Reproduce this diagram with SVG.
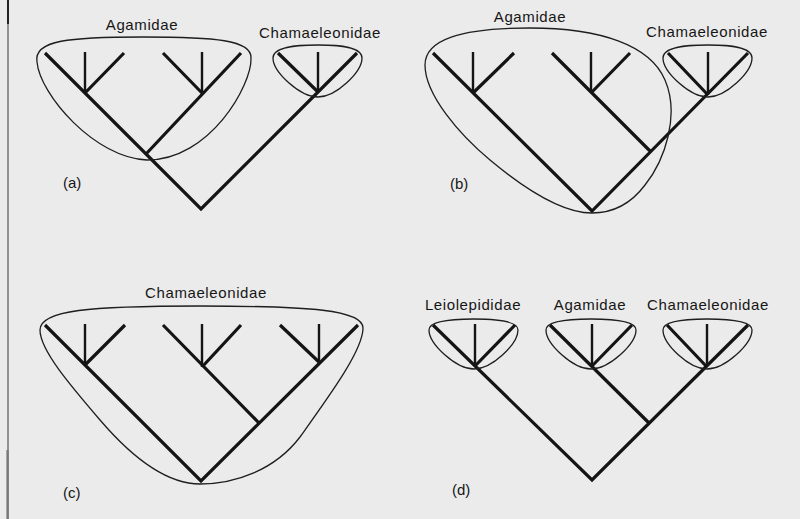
<svg xmlns="http://www.w3.org/2000/svg" width="800" height="519" viewBox="0 0 800 519">
<style>
.br{fill:none;stroke:#141414;stroke-width:3.2;stroke-linecap:butt;stroke-linejoin:miter}
.tip{fill:none;stroke:#141414;stroke-width:2.4}
.loop{fill:none;stroke:#1e1e1e;stroke-width:1.3}
.lab{font-family:"Liberation Sans",Arial,sans-serif;font-size:15px;fill:#161616;text-anchor:middle;letter-spacing:0.6px}
.pl{font-family:"Liberation Sans",Arial,sans-serif;font-size:15px;fill:#161616}
</style>
<rect width="800" height="519" fill="#ebebeb"/>
<line x1="8" y1="0" x2="8" y2="519" stroke="#555" stroke-width="1.2"/>
<line x1="8" y1="0" x2="8" y2="24" stroke="#222" stroke-width="2"/>
<line x1="7.5" y1="450" x2="7.5" y2="519" stroke="#777" stroke-width="2.2"/>

<g id="panel-a">
  <g id="a-tree">
    <path class="br" d="M45,53 L201,209 L357,53 M85,93 L124,53 M146,154 L241,53 M202,93 L163,53 M318,92 L278,53"/>
    <path class="tip" d="M85,93 V52 M202,93 V52 M318,92 V52"/>
  </g>
  <g id="a-agamidae">
    <path class="loop" d="M147,160 C95,158 40,95 37,62 C33,40 70,37 143,37 C215,37 252,40 251,58 C252,85 210,160 147,160 Z"/>
    <text class="lab" x="142" y="30">Agamidae</text>
  </g>
  <g id="a-chamaeleonidae">
    <path class="loop" d="M318,97 C300,97 273,72 273,58 C273,47 295,45 318,45 C341,45 362,47 362,58 C362,72 336,97 318,97 Z"/>
    <text class="lab" x="320" y="38">Chamaeleonidae</text>
  </g>
  <text class="pl" x="63" y="188">(a)</text>
</g>

<g id="panel-b">
  <g id="b-tree">
    <path class="br" d="M433,53 L592,211 L748,53 M473,93 L514,53 M651,152 L552,53 M591,93 L630,53 M708,95 L668,53"/>
    <path class="tip" d="M473,93 V52 M591,93 V52 M708,95 V52"/>
  </g>
  <g id="b-agamidae">
    <path class="loop" d="M592,213 C560,213 520,185 490,160 C460,135 425,95 425,65 C425,40 460,28 530,28 C600,28 650,45 665,80 C680,115 665,160 645,185 C630,205 612,213 592,213 Z"/>
    <text class="lab" x="530" y="22">Agamidae</text>
  </g>
  <g id="b-chamaeleonidae">
    <path class="loop" d="M708,97 C690,97 663,72 663,58 C663,47 685,45 708,45 C731,45 752,47 752,58 C752,72 726,97 708,97 Z"/>
    <text class="lab" x="707" y="37">Chamaeleonidae</text>
  </g>
  <text class="pl" x="450" y="189">(b)</text>
</g>

<g id="panel-c">
  <g id="c-tree">
    <path class="br" d="M45,325 L201,481 L358,325 M85,365 L125,325 M259,423 L163,325 M202,367 L241,325 M320,363 L280,325"/>
    <path class="tip" d="M85,365 V324 M202,367 V324 M319,363 V324"/>
  </g>
  <g id="c-chamaeleonidae">
    <path class="loop" d="M200,484 C165,484 130,455 100,420 C70,385 40,350 40,330 C40,310 90,306 200,306 C310,306 363,310 363,328 C363,350 330,395 300,437 C275,470 235,484 200,484 Z"/>
    <text class="lab" x="206" y="298">Chamaeleonidae</text>
  </g>
  <text class="pl" x="63" y="498">(c)</text>
</g>

<g id="panel-d">
  <g id="d-tree">
    <path class="br" d="M433,325 L592,480 L748,325 M475,366 L515,325 M649,423 L550,325 M592,366 L632,325 M706,366 L667,325"/>
    <path class="tip" d="M475,366 V324 M592,366 V324 M707,366 V324"/>
  </g>
  <g id="d-leiolepididae">
    <path class="loop" d="M474,369 C456,369 429,344 429,330 C429,321 451,319 474,319 C497,319 518,321 518,330 C518,344 492,369 474,369 Z"/>
    <text class="lab" x="473" y="310">Leiolepididae</text>
  </g>
  <g id="d-agamidae">
    <path class="loop" d="M591,369 C573,369 546,344 546,330 C546,321 568,319 591,319 C614,319 636,321 636,330 C636,344 609,369 591,369 Z"/>
    <text class="lab" x="590" y="310">Agamidae</text>
  </g>
  <g id="d-chamaeleonidae">
    <path class="loop" d="M707,369 C689,369 663,344 663,330 C663,321 685,319 707,319 C730,319 752,321 752,330 C752,344 725,369 707,369 Z"/>
    <text class="lab" x="708" y="310">Chamaeleonidae</text>
  </g>
  <text class="pl" x="452" y="495">(d)</text>
</g>
</svg>
